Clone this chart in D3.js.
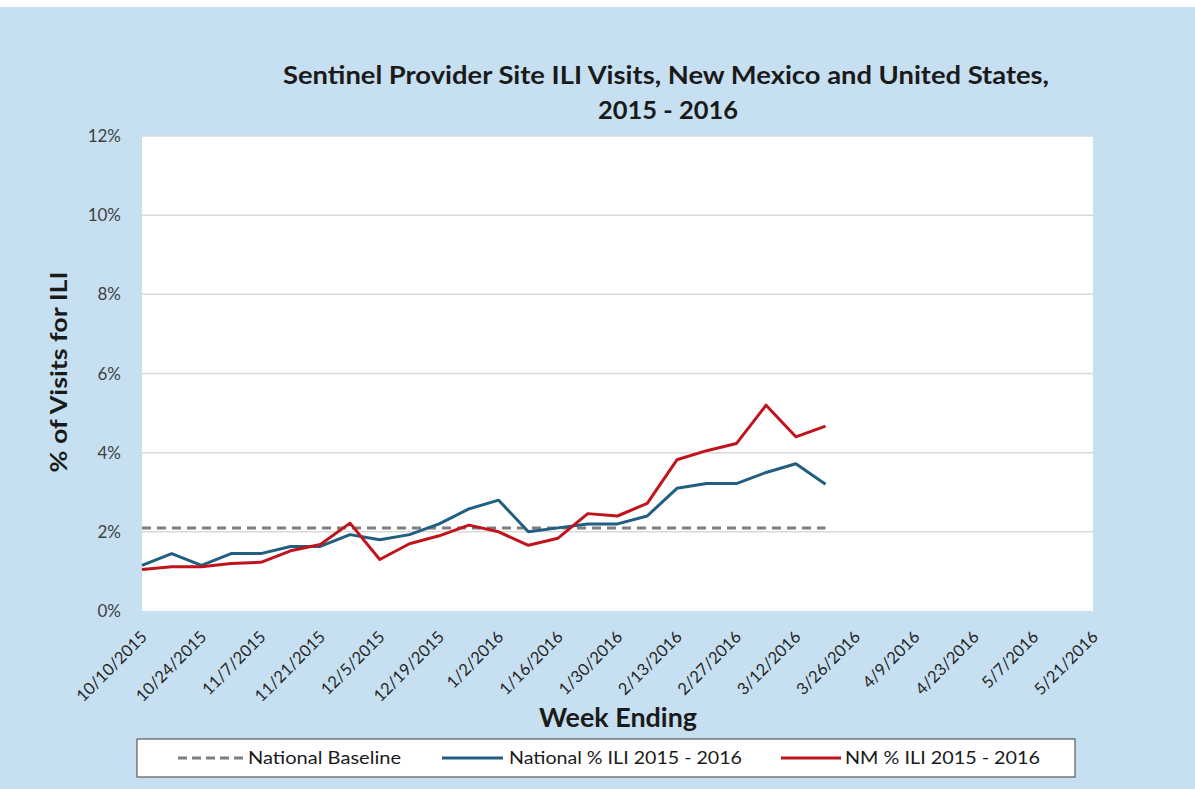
<!DOCTYPE html>
<html>
<head>
<meta charset="utf-8">
<script src="https://cdn.jsdelivr.net/npm/d3@7"></script>
<style>
  body { margin: 0; background: #ffffff; }
  svg { display: block; }
  text { font-family: Lato, "Open Sans", sans-serif; fill: #1a1a1a; }
</style>
</head>
<body>
<svg id="chart" width="1195" height="789"></svg>
<script>
// week ending labels (every week, 10/10/2015 .. 5/21/2016)
var weeks = ['10/10/2015','10/17/2015','10/24/2015','10/31/2015','11/7/2015','11/14/2015','11/21/2015','11/28/2015',
  '12/5/2015','12/12/2015','12/19/2015','12/26/2015','1/2/2016','1/9/2016','1/16/2016','1/23/2016','1/30/2016',
  '2/6/2016','2/13/2016','2/20/2016','2/27/2016','3/5/2016','3/12/2016','3/19/2016','3/26/2016','4/2/2016',
  '4/9/2016','4/16/2016','4/23/2016','4/30/2016','5/7/2016','5/14/2016','5/21/2016'];

// values in %
var national = [1.15, 1.45, 1.15, 1.45, 1.45, 1.63, 1.63, 1.93, 1.8, 1.93, 2.2, 2.58, 2.8, 2.0, 2.1, 2.2, 2.2,
  2.4, 3.1, 3.22, 3.22, 3.5, 3.72, 3.2];
var nm = [1.05, 1.12, 1.12, 1.2, 1.23, 1.52, 1.68, 2.22, 1.3, 1.7, 1.9, 2.17, 2.0, 1.66, 1.84, 2.46, 2.4,
  2.72, 3.82, 4.05, 4.23, 5.2, 4.4, 4.67];
var baseline = 2.1;
var baselineWeeks = 24;

var yTicks = [0, 2, 4, 6, 8, 10, 12];

var svg = d3.select('#chart');

// background panel
svg.append('rect').attr('x', 0).attr('y', 7).attr('width', 1195).attr('height', 782)
  .attr('fill', '#c6e0f1');

var plotLeft = 142, plotRight = 1093, plotTop = 136, plotBottom = 611;

svg.append('rect').attr('x', plotLeft).attr('y', plotTop)
  .attr('width', plotRight - plotLeft).attr('height', plotBottom - plotTop)
  .attr('fill', '#ffffff');

var xScale = d3.scalePoint().domain(weeks).range([plotLeft, plotRight]);
var yScale = d3.scaleLinear().domain([0, 12]).range([plotBottom, plotTop]);

// gridlines
svg.append('g').selectAll('line').data(yTicks.filter(function(d) { return d > 0; }))
  .enter().append('line')
  .attr('x1', plotLeft).attr('x2', plotRight)
  .attr('y1', function(d) { return yScale(d); })
  .attr('y2', function(d) { return yScale(d); })
  .attr('stroke', '#d9d9d9').attr('stroke-width', 1.5);

// y axis labels
svg.append('g').selectAll('text').data(yTicks)
  .enter().append('text')
  .attr('x', 121).attr('y', function(d) { return yScale(d) + 6; })
  .attr('text-anchor', 'end')
  .style('font-size', '17px')
  .style('fill', '#404040')
  .text(function(d) { return d + '%'; });

// x axis labels, every second week
svg.append('g').selectAll('text').data(weeks.filter(function(d, i) { return i % 2 === 0; }))
  .enter().append('text')
  .attr('transform', function(d) { return 'translate(' + (xScale(d) + 6) + ',' + (plotBottom + 27) + ') rotate(-45)'; })
  .attr('text-anchor', 'end')
  .style('font-size', '16.5px')
  .style('fill', '#262626')
  .text(function(d) { return d; });

// baseline
var baselineData = weeks.slice(0, baselineWeeks).map(function(w) { return [w, baseline]; });
var lineFn = d3.line()
  .x(function(d) { return xScale(d[0]); })
  .y(function(d) { return yScale(d[1]); });

svg.append('path').datum(baselineData)
  .attr('d', lineFn)
  .attr('fill', 'none').attr('stroke', '#7f7f7f')
  .attr('stroke-width', 3).attr('stroke-dasharray', '9,6');

svg.append('path').datum(national.map(function(v, i) { return [weeks[i], v]; }))
  .attr('d', lineFn)
  .attr('fill', 'none').attr('stroke', '#215e7f')
  .attr('stroke-width', 3).attr('stroke-linejoin', 'round');

svg.append('path').datum(nm.map(function(v, i) { return [weeks[i], v]; }))
  .attr('d', lineFn)
  .attr('fill', 'none').attr('stroke', '#c0141c')
  .attr('stroke-width', 3).attr('stroke-linejoin', 'round');

// titles
var title = svg.append('text')
  .attr('text-anchor', 'middle')
  .style('font-size', '25px').style('font-weight', 'bold');
title.append('tspan').attr('x', 666).attr('y', 84)
  .attr('textLength', 766).attr('lengthAdjust', 'spacingAndGlyphs')
  .text('Sentinel Provider Site ILI Visits, New Mexico and United States,');
title.append('tspan').attr('x', 668).attr('y', 119)
  .attr('textLength', 140).attr('lengthAdjust', 'spacingAndGlyphs')
  .text('2015 - 2016');

svg.append('text')
  .attr('transform', 'translate(67,372) rotate(-90)')
  .attr('text-anchor', 'middle')
  .attr('textLength', 201).attr('lengthAdjust', 'spacingAndGlyphs')
  .style('font-size', '23px').style('font-weight', 'bold')
  .text('% of Visits for ILI');

svg.append('text')
  .attr('x', 618).attr('y', 727)
  .attr('text-anchor', 'middle')
  .attr('textLength', 158).attr('lengthAdjust', 'spacingAndGlyphs')
  .style('font-size', '26px').style('font-weight', 'bold')
  .text('Week Ending');

// legend
var legend = svg.append('g');
legend.append('rect').attr('x', 137).attr('y', 739).attr('width', 938).attr('height', 38)
  .attr('fill', '#ffffff').attr('stroke', '#595959').attr('stroke-width', 1.2);

var legendItems = [
  {label: 'National Baseline', color: '#7f7f7f', dash: '9,5', x1: 178, x2: 245, tx: 248, tw: 153},
  {label: 'National % ILI 2015 - 2016', color: '#215e7f', dash: null, x1: 442, x2: 503, tx: 509, tw: 233},
  {label: 'NM % ILI 2015 - 2016', color: '#c0141c', dash: null, x1: 781, x2: 841, tx: 845, tw: 195}
];
legendItems.forEach(function(item) {
  legend.append('line')
    .attr('x1', item.x1).attr('x2', item.x2)
    .attr('y1', 758).attr('y2', 758)
    .attr('stroke', item.color).attr('stroke-width', 3)
    .attr('stroke-dasharray', item.dash);
  legend.append('text')
    .attr('x', item.tx).attr('y', 764)
    .attr('textLength', item.tw).attr('lengthAdjust', 'spacingAndGlyphs')
    .style('font-size', '18px')
    .text(item.label);
});
</script>
</body>
</html>
